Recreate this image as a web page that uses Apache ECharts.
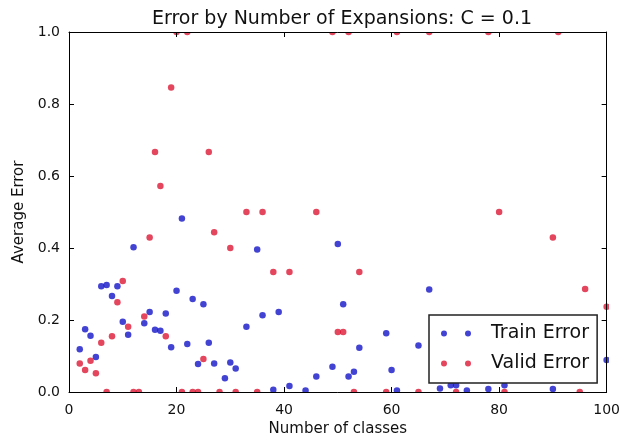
<!DOCTYPE html>
<html>
<head>
<meta charset="utf-8">
<script src="https://cdn.jsdelivr.net/npm/echarts@6/dist/echarts.min.js"></script>
<style>
html,body{margin:0;padding:0;background:#fff;}
#chart{width:623px;height:442px;}
</style>
</head>
<body>
<div id="chart"></div>
<script>
const trainX = [2,3,4,5,6,7,8,9,10,11,12,14,15,16,17,18,19,20,21,22,23,24,25,26,27,29,30,31,33,35,36,38,39,41,44,46,49,50,51,52,53,54,59,60,61,65,67,69,71,72,74,78,81,90,100];
const trainY = [0.119,0.174,0.156,0.097,0.294,0.297,0.267,0.294,0.195,0.159,0.402,0.191,0.222,0.173,0.170,0.218,0.124,0.281,0.482,0.133,0.258,0.078,0.244,0.137,0.079,0.038,0.082,0.065,0.181,0.396,0.213,0.006,0.222,0.017,0.004,0.043,0.070,0.411,0.244,0.043,0.056,0.123,0.163,0.061,0.004,0.129,0.285,0.010,0.019,0.019,0.004,0.008,0.019,0.008,0.089];
const validX = [2,3,4,5,6,7,8,9,10,11,12,13,14,15,16,17,18,19,20,21,22,23,24,25,26,27,28,30,31,33,35,36,38,41,46,49,50,51,52,53,54,59,61,65,67,72,78,80,81,90,91,95,96,100];
const validY = [0.079,0.061,0.087,0.052,0.137,0,0.155,0.249,0.308,0.181,0,0,0.210,0.429,0.667,0.572,0.155,0.846,1.0,0,1.0,0,0,0.092,0.667,0.444,0,0.4,0,0.5,0,0.5,0.333,0.333,0.5,1.0,0.167,0.167,1.0,0,0.333,0,1.0,0,1.0,0,1.0,0.5,0,0.429,1.0,0,0.286,0.237];
const xTicks = [0,20,40,60,80,100];
const yTicks = [0.0,0.2,0.4,0.6,0.8,1.0];
const seriesNames = ['Train Error','Valid Error'];
const titleText = 'Error by Number of Expansions: C = 0.1';

const W = 623, H = 442;
const gL = 69, gT = 32, gW = 540, gH = 360;
const FONT = 'DejaVu Sans';
const BLUE = '#1414c8', RED = '#dc1834';

const zip = (xs, ys) => xs.map((x, i) => [x, ys[i]]);
const twoDots = 'path://M0,3a3,3 0 1,0 6,0a3,3 0 1,0 -6,0M24,3a3,3 0 1,0 6,0a3,3 0 1,0 -6,0';

const axisCommon = {
  axisLine: {show: true, onZero: false, lineStyle: {color: '#000', width: 1}},
  axisTick: {show: true, inside: true, length: 5, lineStyle: {color: '#000'}},
  splitLine: {show: false},
  z: 10
};

const chart = echarts.init(document.getElementById('chart'), null, {renderer: 'canvas'});
chart.setOption({
  backgroundColor: '#fff',
  animation: false,
  title: {
    text: titleText,
    left: gL + gW / 2 - 2,
    textAlign: 'center',
    top: 5,
    z: 20,
    textStyle: {fontFamily: FONT, fontSize: 19, fontWeight: 'normal', color: '#111'}
  },
  grid: {left: gL, top: gT, width: gW, height: gH, containLabel: false},
  legend: {
    data: seriesNames,
    orient: 'vertical',
    left: 429,
    top: 315,
    z: 20,
    backgroundColor: '#fff',
    borderColor: '#222',
    borderWidth: 1.5,
    borderRadius: 0,
    padding: [9, 8, 10, 12],
    itemGap: 11,
    itemWidth: 30,
    itemHeight: 6,
    icon: twoDots,
    textStyle: {fontFamily: FONT, fontSize: 19, color: '#111', padding: [0, 0, 0, 15]}
  },
  xAxis: [
    Object.assign({}, axisCommon, {
      type: 'value', min: 0, max: 100, interval: 20, position: 'bottom',
      name: 'Number of classes', nameLocation: 'middle', nameGap: 30,
      nameTextStyle: {fontFamily: FONT, fontSize: 15, color: '#111'},
      axisLabel: {fontFamily: FONT, fontSize: 14, color: '#111', margin: 11,
        customValues: xTicks}
    }),
    Object.assign({}, axisCommon, {
      type: 'value', min: 0, max: 100, interval: 20, position: 'top',
      axisLabel: {show: false}
    })
  ],
  yAxis: [
    Object.assign({}, axisCommon, {
      type: 'value', min: 0, max: 1, interval: 0.2, position: 'left',
      name: 'Average Error', nameLocation: 'middle', nameGap: 40,
      nameTextStyle: {fontFamily: FONT, fontSize: 15, color: '#111'},
      axisLabel: {fontFamily: FONT, fontSize: 14, color: '#111', margin: 9,
        formatter: v => v.toFixed(1)}
    }),
    Object.assign({}, axisCommon, {
      type: 'value', min: 0, max: 1, interval: 0.2, position: 'right',
      axisLabel: {show: false}
    })
  ],
  graphic: {
    z: 5,
    elements: [
      {type: 'rect', z: 5, silent: true, shape: {x: 0, y: 0, width: W, height: gT}, style: {fill: '#fff'}},
      {type: 'rect', z: 5, silent: true, shape: {x: 0, y: gT + gH, width: W, height: H - gT - gH}, style: {fill: '#fff'}},
      {type: 'rect', z: 5, silent: true, shape: {x: 0, y: 0, width: gL, height: H}, style: {fill: '#fff'}},
      {type: 'rect', z: 5, silent: true, shape: {x: gL + gW, y: 0, width: W - gL - gW, height: H}, style: {fill: '#fff'}}
    ]
  },
  series: [
    {
      name: seriesNames[0], type: 'scatter', symbol: 'circle', symbolSize: 6.5,
      itemStyle: {color: BLUE}, clip: false, z: 2,
      data: zip(trainX, trainY)
    },
    {
      name: seriesNames[1], type: 'scatter', symbol: 'circle', symbolSize: 6.5,
      itemStyle: {color: RED}, clip: false, z: 2,
      data: zip(validX, validY)
    }
  ]
});
</script>
</body>
</html>
